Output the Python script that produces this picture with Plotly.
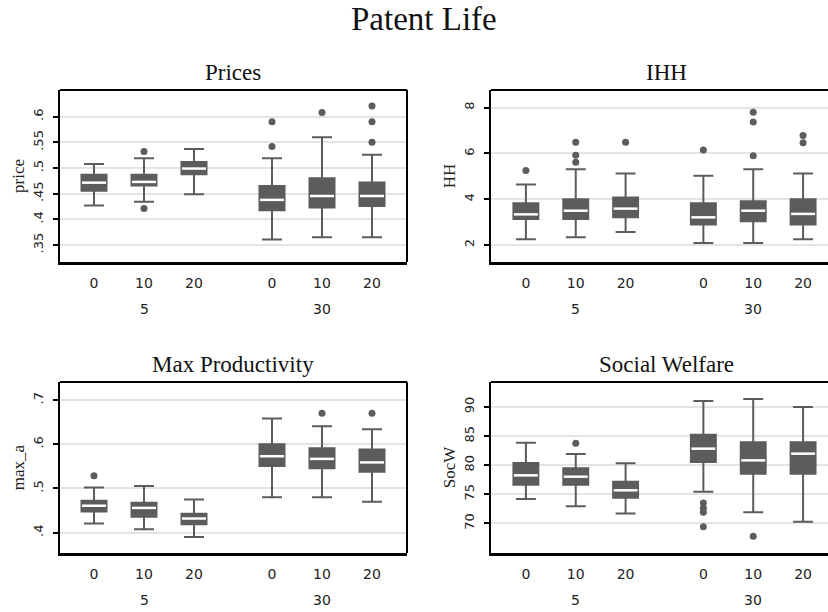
import plotly.graph_objects as go

# ---------------- data ----------------
patent_life = ["5", "5", "5", "30", "30", "30"]
imitation = ["0", "10", "20", "0", "10", "20"]
group_labels = ["5", "30"]

price_q1 = [0.456, 0.466, 0.488, 0.418, 0.423, 0.426]
price_med = [0.4715, 0.473, 0.499, 0.438, 0.4455, 0.4455]
price_q3 = [0.487, 0.487, 0.512, 0.465, 0.480, 0.472]
price_lo = [0.427, 0.4345, 0.449, 0.361, 0.365, 0.365]
price_hi = [0.508, 0.519, 0.537, 0.519, 0.560, 0.526]
price_out = [[], [0.532, 0.421], [], [0.590, 0.542], [0.608], [0.621, 0.590, 0.550]]

ihh_q1 = [3.14, 3.14, 3.21, 2.90, 3.04, 2.90]
ihh_med = [3.34, 3.50, 3.59, 3.21, 3.50, 3.36]
ihh_q3 = [3.82, 4.00, 4.08, 3.82, 3.91, 4.00]
ihh_lo = [2.25, 2.34, 2.57, 2.09, 2.09, 2.25]
ihh_hi = [4.64, 5.31, 5.12, 5.03, 5.31, 5.12]
ihh_out = [[5.25], [6.49, 5.92, 5.61], [6.49], [6.15], [7.80, 7.37, 5.90], [6.78, 6.47]]

maxa_q1 = [0.448, 0.436, 0.419, 0.551, 0.546, 0.538]
maxa_med = [0.461, 0.456, 0.432, 0.573, 0.567, 0.559]
maxa_q3 = [0.472, 0.468, 0.443, 0.600, 0.591, 0.588]
maxa_lo = [0.421, 0.408, 0.390, 0.480, 0.480, 0.470]
maxa_hi = [0.502, 0.5055, 0.475, 0.6585, 0.641, 0.634]
maxa_out = [[0.529], [], [], [], [0.670], [0.670]]

socw_q1 = [76.65, 76.65, 74.42, 80.55, 78.54, 78.54]
socw_med = [78.25, 78.02, 75.68, 82.84, 80.83, 81.98]
socw_q3 = [80.37, 79.46, 77.17, 85.24, 83.93, 83.93]
socw_lo = [74.19, 72.92, 71.67, 75.45, 71.89, 70.29]
socw_hi = [83.87, 81.92, 80.32, 91.03, 91.38, 90.00]
socw_out = [[], [83.75], [], [73.5, 72.6, 71.9, 69.4], [67.77], []]

price_ticks = [0.35, 0.40, 0.45, 0.50, 0.55, 0.60]
price_ticktext = [".35", ".4", ".45", ".5", ".55", ".6"]
ihh_ticks = [2, 4, 6, 8]
ihh_ticktext = ["2", "4", "6", "8"]
maxa_ticks = [0.4, 0.5, 0.6, 0.7]
maxa_ticktext = [".4", ".5", ".6", ".7"]
socw_ticks = [70, 75, 80, 85, 90]
socw_ticktext = ["70", "75", "80", "85", "90"]

# ---------------- layout constants ----------------
W, H = 828, 612
GRAY = "#5c5c5c"
pos = [0, 1, 2, 3.56, 4.56, 5.56]
group_pos = [sum(pos[0:3]) / 3, sum(pos[3:6]) / 3]
BOXW = 0.5
PANEL_W = 347  # full panel width in px (right panels are cut by the window edge)

def px_x(p):
    return p / W

def px_y(p):
    return 1 - p / H

panels = [
    dict(name="Prices", ytitle="price", q1=price_q1, med=price_med, q3=price_q3,
         lo=price_lo, hi=price_hi, out=price_out, ticks=price_ticks, ticktext=price_ticktext,
         yrange=[0.317, 0.652], xdom=[60, 407], ydom=[90, 262], xr=[-0.68, 6.26], right=True),
    dict(name="IHH", ytitle="HH", q1=ihh_q1, med=ihh_med, q3=ihh_q3,
         lo=ihh_lo, hi=ihh_hi, out=ihh_out, ticks=ihh_ticks, ticktext=ihh_ticktext,
         yrange=[1.26, 8.77], xdom=[491, 828], ydom=[90, 262], xr=[-0.70, 6.06], right=False),
    dict(name="Max Productivity", ytitle="max_a", q1=maxa_q1, med=maxa_med, q3=maxa_q3,
         lo=maxa_lo, hi=maxa_hi, out=maxa_out, ticks=maxa_ticks, ticktext=maxa_ticktext,
         yrange=[0.354, 0.741], xdom=[60, 407], ydom=[382, 553], xr=[-0.68, 6.26], right=True),
    dict(name="Social Welfare", ytitle="SocW", q1=socw_q1, med=socw_med, q3=socw_q3,
         lo=socw_lo, hi=socw_hi, out=socw_out, ticks=socw_ticks, ticktext=socw_ticktext,
         yrange=[64.9, 94.3], xdom=[491, 828], ydom=[382, 553], xr=[-0.70, 6.06], right=False),
]

fig = go.Figure()
annotations = []
shapes = []
layout = {}

for i, p in enumerate(panels):
    k = "" if i == 0 else str(i + 1)
    xa, ya = "x" + k, "y" + k
    # boxes
    fig.add_trace(go.Box(
        x=pos, q1=p["q1"], median=p["med"], q3=p["q3"],
        lowerfence=p["lo"], upperfence=p["hi"],
        width=BOXW, whiskerwidth=0.8, boxpoints=False,
        fillcolor=GRAY, line=dict(color=GRAY, width=2),
        xaxis=xa, yaxis=ya, showlegend=False, hoverinfo="skip"))
    # white median lines
    mx, my = [], []
    for xp, m in zip(pos, p["med"]):
        mx += [xp - BOXW / 2 + 0.01, xp + BOXW / 2 - 0.01, None]
        my += [m, m, None]
    fig.add_trace(go.Scatter(x=mx, y=my, mode="lines", line=dict(color="white", width=2.5),
                             xaxis=xa, yaxis=ya, showlegend=False, hoverinfo="skip"))
    # outliers
    ox, oy = [], []
    for xp, outs in zip(pos, p["out"]):
        for v in outs:
            ox.append(xp)
            oy.append(v)
    fig.add_trace(go.Scatter(x=ox, y=oy, mode="markers",
                             marker=dict(color=GRAY, size=7, symbol="circle"),
                             xaxis=xa, yaxis=ya, showlegend=False, hoverinfo="skip"))

    xd = [px_x(p["xdom"][0]), px_x(p["xdom"][1])]
    yd = [px_y(p["ydom"][1]), px_y(p["ydom"][0])]
    layout["xaxis" + k] = dict(
        domain=xd, range=p["xr"], anchor=ya, tickmode="array", tickvals=pos,
        ticktext=imitation, ticks="", showgrid=False, zeroline=False,
        showline=True, linecolor="black", linewidth=3,
        tickfont=dict(family="DejaVu Sans", size=14, color="#222"),
        ticklabelstandoff=6, fixedrange=True)
    layout["yaxis" + k] = dict(
        domain=yd, range=p["yrange"], anchor=xa, tickmode="array", tickvals=p["ticks"],
        ticktext=p["ticktext"], tickangle=-90, ticks="outside", ticklen=5, tickwidth=2,
        tickcolor="black", showgrid=True, gridcolor="#e4e4e4", gridwidth=1.5,
        zeroline=False, showline=True, linecolor="black", linewidth=2,
        tickfont=dict(family="DejaVu Sans", size=13, color="#222"),
        ticklabelstandoff=5,
        title=dict(text=p["ytitle"], standoff=2,
                   font=dict(family="Liberation Serif", size=17, color="#222")),
        fixedrange=True)
    # frame: top (and right for left panels)
    shapes.append(dict(type="line", xref=xa + " domain", yref=ya + " domain",
                       x0=0, x1=1, y0=1, y1=1, line=dict(color="black", width=2)))
    if p["right"]:
        shapes.append(dict(type="line", xref=xa + " domain", yref=ya + " domain",
                           x0=1, x1=1, y0=0, y1=1, line=dict(color="black", width=2)))
    # subplot title centred on the full panel
    cx = p["xdom"][0] + PANEL_W / 2 + (2 if not p["right"] else 0)
    annotations.append(dict(text=p["name"], x=px_x(cx), y=px_y(p["ydom"][0] - 18),
                            xref="paper", yref="paper", xanchor="center", yanchor="middle",
                            showarrow=False,
                            font=dict(family="Liberation Serif", size=23, color="#111")))
    # group labels
    for gp, gl in zip(group_pos, group_labels):
        annotations.append(dict(text=gl, x=gp, xref=xa, y=px_y(p["ydom"][1] + 47), yref="paper",
                                xanchor="center", yanchor="middle", showarrow=False,
                                font=dict(family="DejaVu Sans", size=14, color="#222")))

annotations.append(dict(text="Patent Life", x=px_x(423.5), y=px_y(19), xref="paper", yref="paper",
                        xanchor="center", yanchor="middle", showarrow=False,
                        font=dict(family="Liberation Serif", size=33, color="#111")))

fig.update_layout(
    width=W, height=H, margin=dict(l=0, r=0, t=0, b=0),
    paper_bgcolor="white", plot_bgcolor="white",
    annotations=annotations, shapes=shapes, showlegend=False, **layout)

fig.write_html("out.html")
